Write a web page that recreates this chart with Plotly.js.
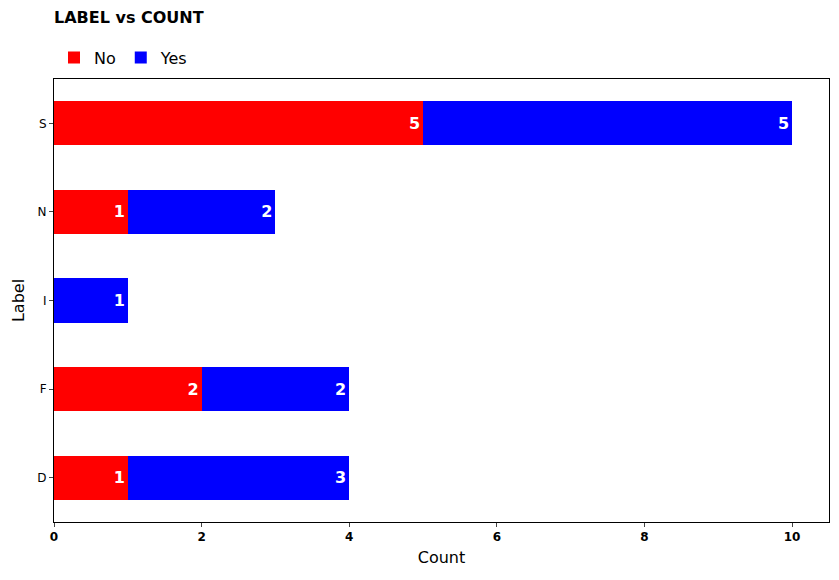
<!DOCTYPE html>
<html>
<head>
<script src="https://cdn.plot.ly/plotly-3.0.1.min.js"></script>
<style>body{margin:0}</style>
</head>
<body>
<div id="chart" style="width:839px;height:580px"></div>
<script>
const labels = ['D', 'F', 'I', 'N', 'S']
const noCounts = [1, 2, 0, 1, 5]
const yesCounts = [3, 2, 1, 2, 5]
const ticks = [0, 2, 4, 6, 8, 10]

function barTrace (name, values, color) {
  return {
    type: 'bar',
    orientation: 'h',
    name: name,
    y: labels,
    x: values,
    width: 0.5,
    marker: { color: color },
    text: values.map(v => v > 0 ? String(v) : ''),
    textposition: 'inside',
    insidetextanchor: 'end',
    textfont: { color: 'white', size: 16, family: 'DejaVu Sans', weight: 'bold' },
    hoverinfo: 'x+y+name'
  }
}

const data = [
  barTrace('No', noCounts, '#ff0000'),
  barTrace('Yes', yesCounts, '#0000ff')
]

const layout = {
  barmode: 'stack',
  width: 839,
  height: 580,
  margin: { l: 54, r: 10, t: 79, b: 58 },
  font: { family: 'DejaVu Sans', color: 'black' },
  paper_bgcolor: 'white',
  plot_bgcolor: 'white',
  title: {
    text: '<b>LABEL vs COUNT</b>',
    x: 54 / 839, xanchor: 'left', y: 0.97, yanchor: 'middle',
    font: { size: 16 }
  },
  showlegend: true,
  legend: {
    orientation: 'h', x: 0, xanchor: 'left', y: 1.01, yanchor: 'bottom',
    font: { size: 16 }, traceorder: 'normal'
  },
  xaxis: {
    range: [0, 10.5],
    tickvals: ticks,
    ticks: 'outside', ticklen: 4,
    tickfont: { size: 12, weight: 'bold' },
    showgrid: false, zeroline: false,
    showline: true, mirror: true, linecolor: 'black', linewidth: 1,
    title: { text: 'Count', font: { size: 16 }, standoff: 8 }
  },
  yaxis: {
    ticks: 'outside', ticklen: 4,
    tickfont: { size: 12 },
    showgrid: false, zeroline: false,
    showline: true, mirror: true, linecolor: 'black', linewidth: 1,
    title: { text: 'Label', font: { size: 16 }, standoff: 8 }
  }
}

Plotly.newPlot('chart', data, layout, { displayModeBar: false })
</script>
</body>
</html>
